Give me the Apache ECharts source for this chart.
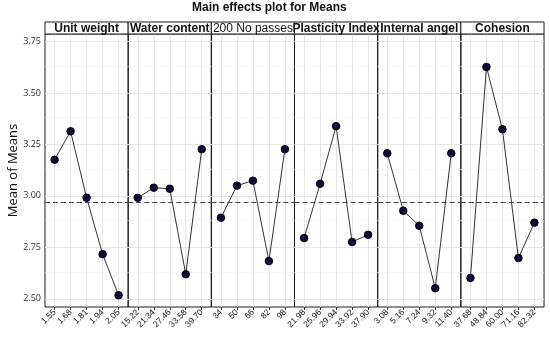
<!DOCTYPE html>
<html>
<head>
<meta charset="utf-8">
<script src="https://cdn.jsdelivr.net/npm/echarts@6/dist/echarts.min.js"></script>
<style>html,body{margin:0;padding:0;background:#fff}#c{width:550px;height:339px}</style>
</head>
<body>
<div id="c"></div>
<script>
// ---- data ----
const factors = ['Unit weight', 'Water content', '200 No passes', 'Plasticity Index', 'Internal angel', 'Cohesion'];
const levelsUnitWeight = ['1.55', '1.68', '1.81', '1.94', '2.05'];
const levelsWater = ['15.22', '21.34', '27.46', '33.58', '39.70'];
const levels200 = ['34', '50', '66', '82', '98'];
const levelsPI = ['21.98', '25.96', '29.94', '33.92', '37.90'];
const levelsAngle = ['3.08', '5.16', '7.24', '9.32', '11.40'];
const levelsCohesion = ['37.68', '48.84', '60.00', '71.16', '82.32'];

const meansUnitWeight = [3.176, 3.314, 2.991, 2.717, 2.517];
const meansWater = [2.991, 3.040, 3.035, 2.619, 3.227];
const means200 = [2.894, 3.050, 3.074, 2.683, 3.227];
const meansPI = [2.795, 3.059, 3.339, 2.776, 2.811];
const meansAngle = [3.207, 2.928, 2.855, 2.551, 3.207];
const meansCohesion = [2.601, 3.627, 3.324, 2.698, 2.870];

const grandMean = 2.972;
const yTicks = [2.50, 2.75, 3.00, 3.25, 3.50, 3.75];
const yMinorTicks = [2.625, 2.875, 3.125, 3.375, 3.625];

const levelLists = [levelsUnitWeight, levelsWater, levels200, levelsPI, levelsAngle, levelsCohesion];
const meanLists = [meansUnitWeight, meansWater, means200, meansPI, meansAngle, meansCohesion];

// ---- layout ----
const L0 = 45, PW = 83.17, TOP = 34, BOTTOM = 32, STRIP_TOP = 22;
const chart = echarts.init(document.getElementById('c'), null, {renderer: 'canvas'});

const grids = [], xAxes = [], yAxes = [], series = [], graphics = [];
const idx = [0, 1, 2, 3, 4];
factors.forEach((f, i) => {
  const left = L0 + i * PW;
  grids.push({left: left, width: PW, top: TOP, bottom: BOTTOM, show: true, borderColor: '#1a1a1a', borderWidth: 1, backgroundColor: 'transparent', containLabel: false});
  const labs = levelLists[i];
  xAxes.push({
    type: 'value', gridIndex: i, min: -0.6, max: 4.6,
    axisLine: {show: false},
    splitLine: {show: false},
    axisTick: {show: true, customValues: idx, length: 3, lineStyle: {color: '#333'}},
    axisLabel: {show: true, customValues: idx, rotate: 45, fontSize: 8.5, color: '#111', margin: 4,
      fontFamily: 'Liberation Sans', formatter: v => labs[Math.round(v)]}
  });
  yAxes.push({
    type: 'value', gridIndex: i, min: 2.46, max: 3.787,
    axisLine: {show: false},
    splitLine: {show: false},
    axisTick: {show: i === 0, customValues: yTicks, length: 3, lineStyle: {color: '#333'}},
    axisLabel: {show: i === 0, customValues: yTicks, fontSize: 9, color: '#333', margin: 4,
      fontFamily: 'Open Sans', formatter: v => v.toFixed(2)},
    name: i === 0 ? 'Mean of Means' : '', nameLocation: 'middle', nameGap: 24,
    nameTextStyle: {fontSize: 13, color: '#111', fontFamily: 'Open Sans'}
  });
  const mlData = [];
  yMinorTicks.forEach(v => mlData.push({yAxis: v, lineStyle: {color: '#f4f4f4', width: 0.6, type: 'solid'}}));
  yTicks.forEach(v => mlData.push({yAxis: v, lineStyle: {color: '#e6e6e6', width: 1, type: 'solid'}}));
  idx.forEach(v => mlData.push({xAxis: v, lineStyle: {color: '#e6e6e6', width: 1, type: 'solid'}}));
  series.push({
    type: 'line', xAxisIndex: i, yAxisIndex: i, data: [], silent: true, z: 1,
    markLine: {z: 1, silent: true, symbol: 'none', label: {show: false}, animation: false, data: mlData}
  });
  series.push({
    type: 'line', xAxisIndex: i, yAxisIndex: i, data: [], silent: true, z: 2,
    markLine: {z: 2, silent: true, symbol: 'none', label: {show: false}, animation: false,
      data: [{yAxis: grandMean, lineStyle: {color: '#444', width: 1.2, type: [5, 3]}}]}
  });
  series.push({
    type: 'line', xAxisIndex: i, yAxisIndex: i, z: 6,
    data: meanLists[i].map((m, k) => [k, m]),
    symbol: 'circle', symbolSize: 7.5,
    itemStyle: {color: '#0b0b3b', borderColor: '#000', borderWidth: 1},
    lineStyle: {color: '#333', width: 1},
    animation: false
  });
  graphics.push({
    type: 'rect', shape: {x: left, y: STRIP_TOP, width: PW, height: TOP - STRIP_TOP},
    style: {fill: '#fff', stroke: '#1a1a1a', lineWidth: 1}, z: 10
  });
  graphics.push({
    type: 'text', x: left + PW / 2, y: STRIP_TOP + (TOP - STRIP_TOP) / 2 + 0.5, z: 11,
    style: {text: f, fontSize: 12, fontWeight: i === 2 ? 'normal' : 'bold', fontFamily: 'Liberation Sans',
      fill: '#111', align: 'center', verticalAlign: 'middle'}
  });
});

chart.setOption({
  animation: false,
  backgroundColor: '#fff',
  title: {text: 'Main effects plot for Means', left: 192, top: 0, padding: [2, 0, 0, 0],
    textStyle: {fontSize: 12, fontWeight: 'bold', fontFamily: 'Liberation Sans', color: '#111'}},
  grid: grids, xAxis: xAxes, yAxis: yAxes, series: series, graphic: graphics
});
</script>
</body>
</html>
